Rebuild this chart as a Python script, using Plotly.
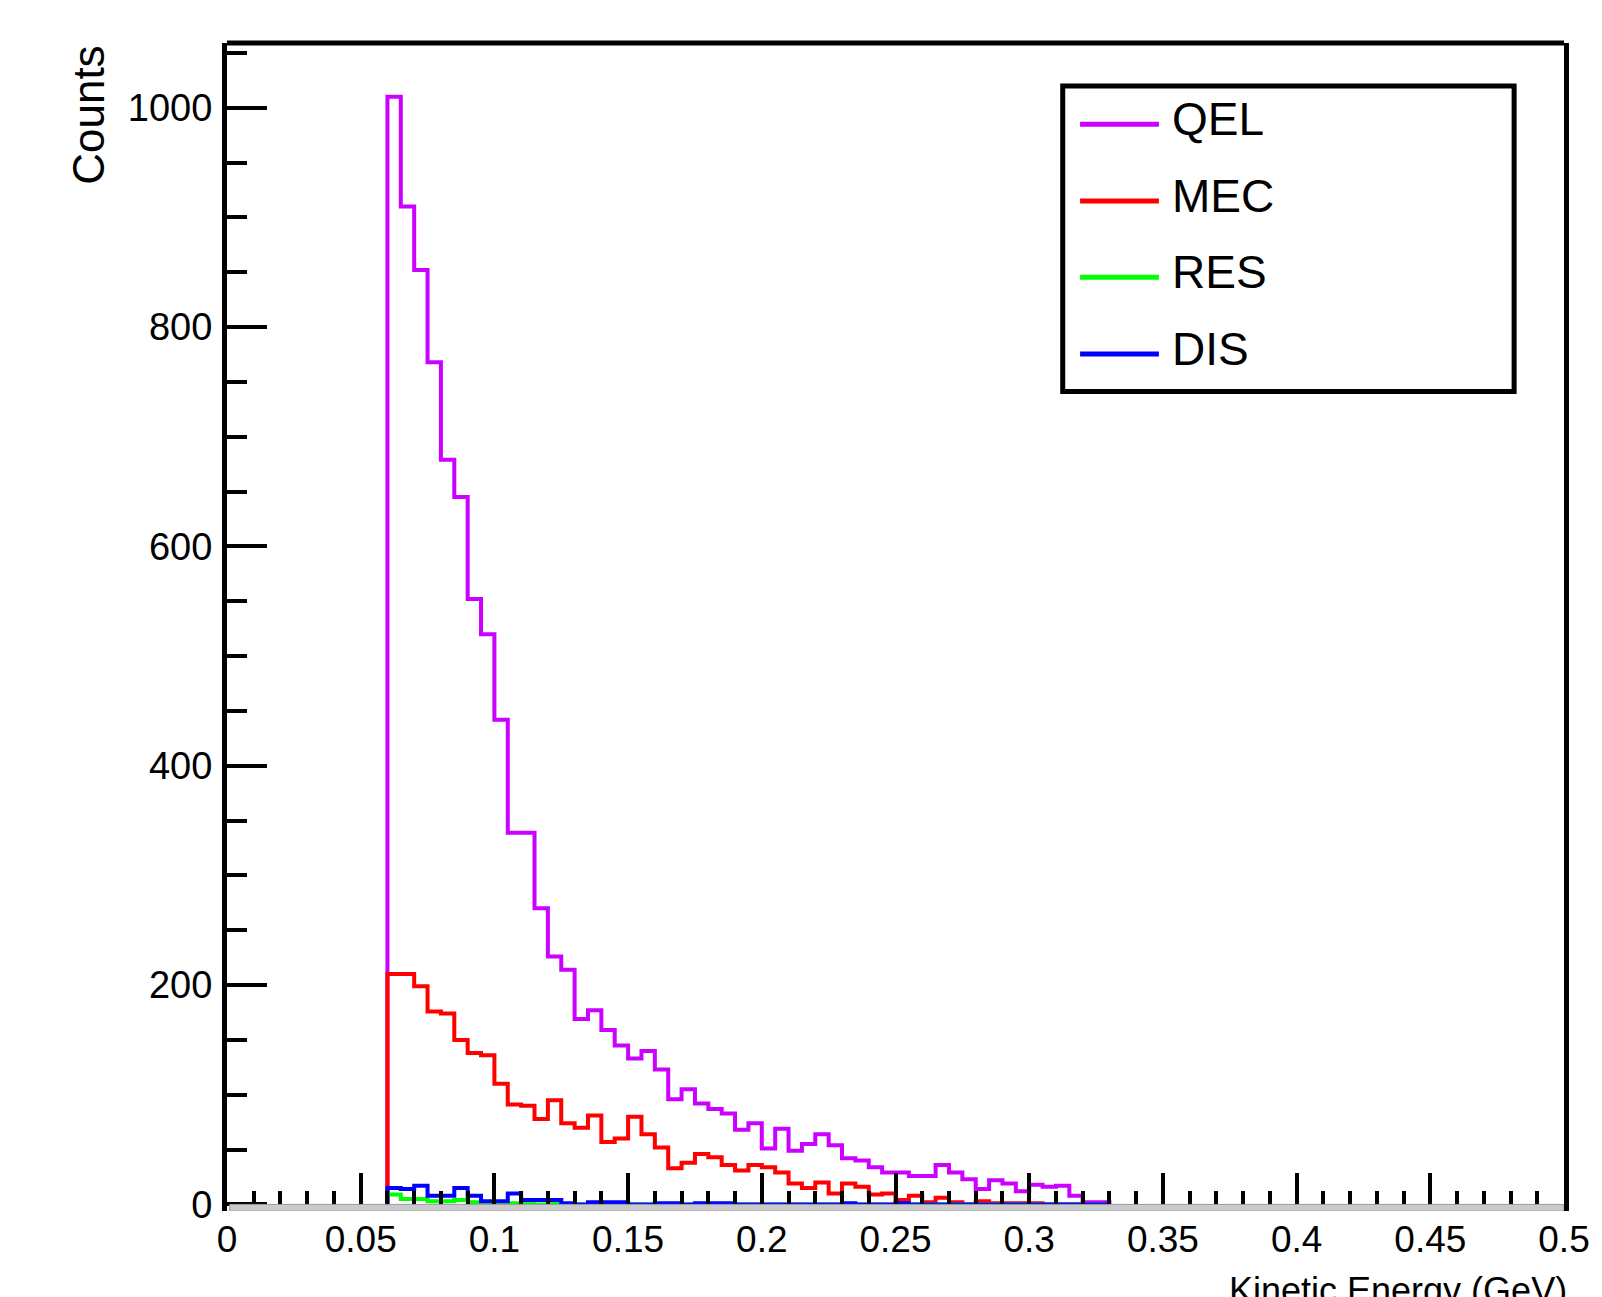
import plotly.graph_objects as go

# ---------------- data ----------------
bin_edges = [0.060, 0.065, 0.070, 0.075, 0.080, 0.085, 0.090, 0.095, 0.100, 0.105,
             0.110, 0.115, 0.120, 0.125, 0.130, 0.135, 0.140, 0.145, 0.150, 0.155,
             0.160, 0.165, 0.170, 0.175, 0.180, 0.185, 0.190, 0.195, 0.200, 0.205,
             0.210, 0.215, 0.220, 0.225, 0.230, 0.235, 0.240, 0.245, 0.250, 0.255,
             0.260, 0.265, 0.270, 0.275, 0.280, 0.285, 0.290, 0.295, 0.300, 0.305,
             0.310, 0.315, 0.320, 0.325, 0.330]

qel = [1010, 910, 852, 768, 679, 645, 552, 520, 442, 339,
       339, 270, 226, 214, 169, 177, 159, 145, 133, 140,
       123, 96, 105, 92, 87, 83, 68, 74, 51, 69,
       49, 55, 64, 54, 42, 40, 34, 29, 29, 26,
       26, 36, 29, 23, 14, 22, 19, 12, 18, 16,
       17, 8, 2, 2]

mec = [210, 210, 199, 176, 174, 150, 138, 136, 110, 91,
       90, 78, 95, 74, 70, 81, 57, 60, 80, 64,
       52, 33, 38, 46, 43, 36, 31, 36, 34, 29,
       19, 15, 20, 10, 19, 16, 9, 10, 4, 8,
       2, 6, 2, 0, 3, 1, 1, 1, 1, 0,
       0, 0, 0, 0]

res = [9, 5, 5, 3, 3, 4, 2, 1, 1, 1,
       1, 0, 1, 0, 0, 0, 0, 1, 0, 0,
       0, 0, 0, 0, 0, 0, 0, 0, 0, 0,
       0, 0, 0, 0, 0, 0, 0, 0, 0, 0,
       0, 0, 0, 0, 0, 0, 0, 0, 0, 0,
       0, 0, 0, 0]

dis = [15, 14, 17, 8, 8, 15, 8, 3, 3, 10,
       4, 4, 4, 1, 0, 2, 2, 2, 0, 0,
       1, 1, 0, 1, 1, 1, 0, 0, 0, 0,
       0, 0, 0, 0, 1, 0, 0, 0, 1, 0,
       0, 0, 0, 0, 0, 0, 0, 0, 0, 0,
       0, 0, 0, 0]

series_names = ["QEL", "MEC", "RES", "DIS"]
series_values = [qel, mec, res, dis]
series_colors = ["#cc00ff", "#ff0000", "#00ff00", "#0000ff"]

x_tick_vals = [0, 0.05, 0.1, 0.15, 0.2, 0.25, 0.3, 0.35, 0.4, 0.45, 0.5]
x_tick_text = ["0", "0.05", "0.1", "0.15", "0.2", "0.25", "0.3", "0.35", "0.4", "0.45", "0.5"]
x_minor_vals = [i / 100 for i in range(0, 51)]
y_tick_vals = [0, 200, 400, 600, 800, 1000]
y_tick_text = ["0", "200", "400", "600", "800", "1000"]
y_minor_vals = [i * 50 for i in range(0, 22)]

x_title = "Kinetic Energy (GeV)"
y_title = "Counts"

# ---------------- layout geometry ----------------
W, H = 1602, 1297
L, R, T, B = 227, 35, 43, 86
FONT = "Liberation Sans, Arial, sans-serif"


def px_x(p):
    return (p - L) / (W - L - R)


def px_y(p):
    return (H - B - p) / (H - B - T)


fig = go.Figure()

for name, vals, col in zip(series_names, series_values, series_colors):
    xs = [bin_edges[0]] + list(bin_edges)
    ys = [0] + list(vals) + [0]
    fig.add_trace(go.Scatter(
        x=xs, y=ys, mode="lines", name=name,
        line=dict(color=col, width=4, shape="hv"),
        showlegend=False, hoverinfo="skip"))

shapes = []
# gray band along the bottom of the frame
shapes.append(dict(type="rect", xref="x", yref="y", x0=0.001, x1=0.5, y0=-6, y1=0,
                   fillcolor="#cacaca", line=dict(color="#9a9aae", width=1), layer="above"))
# top frame line
shapes.append(dict(type="line", xref="paper", yref="paper", x0=0, x1=1, y0=1, y1=1,
                   line=dict(color="black", width=5)))

# legend box
shapes.append(dict(type="rect", xref="paper", yref="paper",
                   x0=px_x(1064.6), x1=px_x(1517), y0=px_y(391.5), y1=px_y(86),
                   fillcolor="white", line=dict(color="black", width=5), layer="above"))
annotations = []
leg_y = [124.3, 201.0, 277.3, 354.0]
for name, col, yy in zip(series_names, series_colors, leg_y):
    shapes.append(dict(type="line", xref="paper", yref="paper",
                       x0=px_x(1082), x1=px_x(1161), y0=px_y(yy), y1=px_y(yy),
                       line=dict(color=col, width=5), layer="above"))
    annotations.append(dict(text=name, xref="paper", yref="paper",
                            x=px_x(1172), y=px_y(yy - 5), xanchor="left", yanchor="middle",
                            showarrow=False, font=dict(family=FONT, size=46, color="black")))

annotations.append(dict(text=y_title, xref="paper", yref="paper", textangle=-90,
                        x=px_x(88), y=px_y(44), xanchor="center", yanchor="top",
                        showarrow=False, font=dict(family=FONT, size=44, color="black")))
annotations.append(dict(text=x_title, xref="paper", yref="paper",
                        x=px_x(1572), y=px_y(1268), xanchor="right", yanchor="top",
                        showarrow=False, font=dict(family=FONT, size=36, color="black")))

fig.update_layout(
    width=W, height=H,
    margin=dict(l=L, r=R, t=T, b=B, pad=0),
    paper_bgcolor="white", plot_bgcolor="white",
    shapes=shapes, annotations=annotations,
    showlegend=False,
    xaxis=dict(range=[0, 0.5], showgrid=False, zeroline=False, showline=False,
               ticks="inside", ticklen=38, tickwidth=4, tickcolor="black",
               tickmode="array", tickvals=x_tick_vals, ticktext=x_tick_text,
               tickfont=dict(family=FONT, size=37, color="black"),
               ticklabelstandoff=3,
               minor=dict(tickmode="array", tickvals=x_minor_vals, ticks="inside",
                          ticklen=20, tickwidth=4, tickcolor="black", showgrid=False)),
    yaxis=dict(range=[-6, 1059], showgrid=False, zeroline=False,
               showline=True, linewidth=5, linecolor="black", mirror=True,
               ticks="inside", ticklen=40, tickwidth=4, tickcolor="black",
               tickmode="array", tickvals=y_tick_vals, ticktext=y_tick_text,
               tickfont=dict(family=FONT, size=38, color="black"),
               ticklabelstandoff=2,
               minor=dict(tickmode="array", tickvals=y_minor_vals, ticks="inside",
                          ticklen=20, tickwidth=4, tickcolor="black", showgrid=False)),
)

fig.write_html("out.html")
